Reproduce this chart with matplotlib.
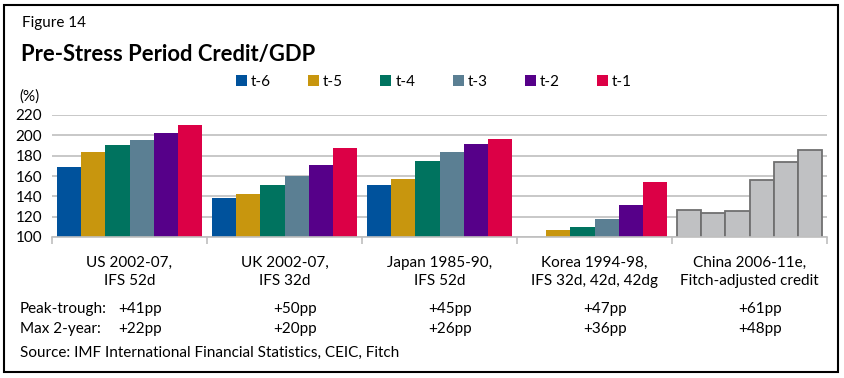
import matplotlib.pyplot as plt
import matplotlib.transforms as mtransforms
from matplotlib.patches import Rectangle
import numpy as np

plt.rcParams['font.family'] = ['Lato', 'DejaVu Sans']

# data
groups = ['US 2002-07,\nIFS 52d', 'UK 2002-07,\nIFS 32d', 'Japan 1985-90,\nIFS 52d',
          'Korea 1994-98,\nIFS 32d, 42d, 42dg', 'China 2006-11e,\nFitch-adjusted credit']
periods = ['t-6', 't-5', 't-4', 't-3', 't-2', 't-1']
us = [169, 184, 190.5, 195.5, 202.5, 210.5]
uk = [138.5, 142.5, 151, 160, 171, 187.5]
japan = [151, 157, 175, 183.5, 191.5, 196.5]
korea = [np.nan, 107, 110, 118, 131.5, 154]
china = [126.5, 123.5, 125.5, 156.5, 173.5, 185.5]
peak_trough = ['+41pp', '+50pp', '+45pp', '+47pp', '+61pp']
max_2year = ['+22pp', '+20pp', '+26pp', '+36pp', '+48pp']
colors = ['#00529C', '#C8960E', '#00735F', '#5B7F93', '#560089', '#DC0046']

W, H = 844, 378
fs = 11
fig = plt.figure(figsize=(W / 100, H / 100), dpi=100)
ax = fig.add_axes([52 / W, 1 - 237 / H, 775 / W, 122 / H])

series = [us, uk, japan, korea]
bw = 0.155
off = 0.035
for j in range(6):
    xs = [i + off + bw * (j + 0.5) for i in range(4)]
    vals = [s[j] for s in series]
    ax.bar(xs, vals, width=bw, color=colors[j], label=periods[j], zorder=3)
xs_cn = [4 + off + bw * (j + 0.5) for j in range(6)]
ax.bar(xs_cn, china, width=bw, color='#C0C1C3', edgecolor='#707070', linewidth=1.3, zorder=3)

ax.set_xlim(0, 5)
ax.set_ylim(100, 220)
ax.set_yticks(range(100, 221, 20))
ax.set_xticks(range(6))
ax.tick_params(axis='x', length=5, width=1.2, color='#BFBFBF', labelbottom=False)
ax.tick_params(axis='y', length=0, pad=7, labelsize=fs)
ax.yaxis.grid(True, color='#BFBFBF', linewidth=1.2, zorder=0)
for s in ['left', 'right', 'top']:
    ax.spines[s].set_visible(False)
ax.spines['bottom'].set_color('#BFBFBF')
ax.spines['bottom'].set_linewidth(1.2)
ax.spines['bottom'].set_zorder(4)

leg = fig.legend(loc='center', bbox_to_anchor=(434 / W, 1 - 81.5 / H), ncol=6, frameon=False,
                 fontsize=fs, handlelength=0.72, handleheight=0.72, handletextpad=0.25,
                 columnspacing=2.45)

def fy(y):
    return 1 - y / H

fig.text(22 / W, fy(23), 'Figure 14', fontsize=fs, va='center', ha='left')
fig.text(21 / W, fy(55), 'Pre-Stress Period Credit/GDP', fontsize=15.8, fontweight='bold',
         va='center', ha='left')
fig.text(29 / W, fy(97), '(%)', fontsize=fs, va='center', ha='center')

tr = mtransforms.blended_transform_factory(ax.transData, fig.transFigure)
for i, g in enumerate(groups):
    ax.text(i + 0.5, fy(272), g, transform=tr, ha='center', va='center', fontsize=fs,
            linespacing=1.4)
    ax.text(i + 0.57, fy(309), peak_trough[i], transform=tr, ha='center', va='center', fontsize=fs)
    ax.text(i + 0.57, fy(329), max_2year[i], transform=tr, ha='center', va='center', fontsize=fs)

fig.text(20 / W, fy(309), 'Peak-trough:', fontsize=fs, va='center', ha='left')
fig.text(20 / W, fy(329), 'Max 2-year:', fontsize=fs, va='center', ha='left')
fig.text(20 / W, fy(353), 'Source: IMF International Financial Statistics, CEIC, Fitch',
         fontsize=fs, va='center', ha='left')

fig.patches.append(Rectangle((4 / W, 1 - 372 / H), 834 / W, 367 / H, transform=fig.transFigure,
                             fill=False, edgecolor='black', linewidth=1.5))

fig.savefig('out.png', dpi=100)
